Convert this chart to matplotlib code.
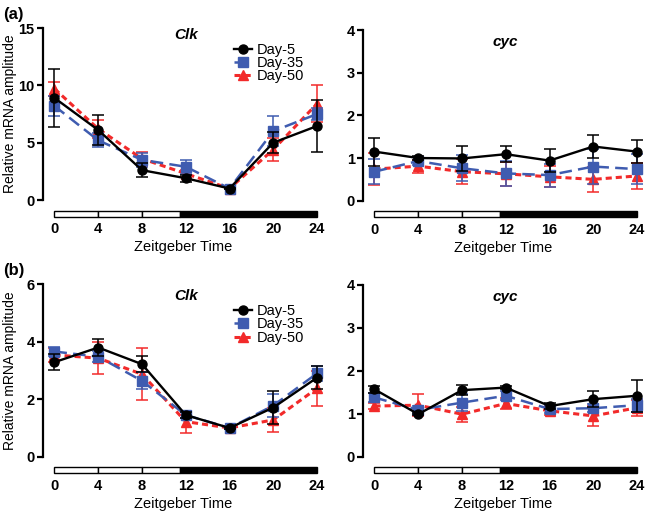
import numpy as np
import matplotlib
matplotlib.use('Agg')
import matplotlib.pyplot as plt
from matplotlib.patches import Rectangle

plt.rcParams['font.family'] = ['Liberation Sans', 'DejaVu Sans']

zt = [0, 4, 8, 12, 16, 20, 24]
grupos = ['Day-5', 'Day-35', 'Day-50']

# (a) Clk
a_clk = {
    'Day-5': [8.9, 6.1, 2.6, 1.9, 1.0, 5.0, 6.45],
    'Day-35': [8.2, 5.2, 3.5, 2.9, 1.0, 6.0, 7.5],
    'Day-50': [9.7, 6.2, 3.6, 2.3, 1.0, 4.4, 8.4],
}
a_clk_err = {
    'Day-5': [2.5, 1.3, 0.6, 0.3, 0.05, 0.9, 2.3],
    'Day-35': [0.9, 0.6, 0.6, 0.6, 0.05, 1.3, 0.5],
    'Day-50': [0.6, 0.8, 0.6, 0.3, 0.05, 1.0, 1.6],
}
# (a) cyc
a_cyc = {
    'Day-5': [1.15, 1.0, 0.99, 1.09, 0.94, 1.27, 1.15],
    'Day-35': [0.68, 0.93, 0.76, 0.64, 0.60, 0.80, 0.74],
    'Day-50': [0.74, 0.81, 0.68, 0.63, 0.56, 0.50, 0.58],
}
a_cyc_err = {
    'Day-5': [0.33, 0.05, 0.30, 0.19, 0.27, 0.27, 0.27],
    'Day-35': [0.30, 0.10, 0.30, 0.30, 0.27, 0.40, 0.35],
    'Day-50': [0.38, 0.15, 0.30, 0.28, 0.25, 0.30, 0.30],
}
# (b) Clk
b_clk = {
    'Day-5': [3.29, 3.8, 3.22, 1.45, 1.0, 1.71, 2.75],
    'Day-35': [3.66, 3.48, 2.64, 1.45, 1.0, 1.78, 2.9],
    'Day-50': [3.54, 3.43, 2.87, 1.22, 1.0, 1.28, 2.38],
}
b_clk_err = {
    'Day-5': [0.27, 0.30, 0.27, 0.10, 0.03, 0.58, 0.40],
    'Day-35': [0.15, 0.20, 0.30, 0.10, 0.03, 0.40, 0.25],
    'Day-50': [0.25, 0.55, 0.90, 0.38, 0.03, 0.42, 0.60],
}
# (b) cyc
b_cyc = {
    'Day-5': [1.57, 0.99, 1.55, 1.61, 1.18, 1.34, 1.42],
    'Day-35': [1.38, 1.09, 1.26, 1.42, 1.11, 1.13, 1.20],
    'Day-50': [1.18, 1.20, 0.99, 1.24, 1.07, 0.95, 1.14],
}
b_cyc_err = {
    'Day-5': [0.08, 0.03, 0.12, 0.04, 0.08, 0.18, 0.37],
    'Day-35': [0.10, 0.10, 0.20, 0.10, 0.10, 0.10, 0.15],
    'Day-50': [0.08, 0.25, 0.17, 0.12, 0.10, 0.23, 0.19],
}

estilo = {
    'Day-5': dict(color='black', marker='o', ls='-', lw=1.7, ms=6.5, z=5),
    'Day-35': dict(color='#3f5cb0', marker='s', ls=(0, (5, 2.5)), lw=1.8, ms=6.5, z=4),
    'Day-50': dict(color='#f22a2a', marker='^', ls=(0, (2.0, 1.3)), lw=2.2, ms=7, z=3),
}

fig = plt.figure(figsize=(6.49, 5.15), dpi=100)
W, H = 649, 515


def eixo(x0, ytop, ybot):
    return fig.add_axes([x0 / W, 1 - ybot / H, 279.5 / W, (ybot - ytop) / H])


def painel(ax, dados, erros, ymax, yticks, titulo, ty, legenda=False, ylabel=False, leg_y=0.92):
    linhas = []
    for g in grupos:
        s = estilo[g]
        c = ax.errorbar(zt, dados[g], yerr=erros[g], color=s['color'], marker=s['marker'],
                        ls=s['ls'], lw=s['lw'], ms=s['ms'], capsize=4, elinewidth=1.1,
                        capthick=1.1, zorder=s['z'], label=g, clip_on=False)
        linhas.append(c[0])
    ax.set_xlim(-1.05, 24.5)
    ax.set_ylim(0, ymax)
    ax.set_yticks(yticks)
    ax.set_xticks(zt)
    for sp in ['top', 'right', 'bottom']:
        ax.spines[sp].set_visible(False)
    ax.spines['left'].set_linewidth(1.6)
    ax.tick_params(axis='y', width=1.6, length=4, labelsize=10.5, pad=2)
    ax.tick_params(axis='x', length=0, labelsize=10.5, pad=16)
    for t in ax.get_xticklabels() + ax.get_yticklabels():
        t.set_fontweight('bold')
    ax.set_xlabel('Zeitgeber Time', fontsize=10.5, labelpad=3)
    if ylabel:
        ax.set_ylabel('Relative mRNA amplitude', fontsize=10)
        ax.yaxis.set_label_coords(-0.092, 0.5)
    ax.text(12, ty, titulo, transform=ax.get_xaxis_transform(), ha='center', va='center',
            fontsize=11, fontweight='bold', fontstyle='italic')
    # barra claro/escuro
    tr = ax.get_xaxis_transform()
    for a, b in [(0, 4), (4, 8), (8, 11.5)]:
        ax.add_patch(Rectangle((a, -0.097), b - a, 0.035, transform=tr, facecolor='white',
                               edgecolor='black', lw=1.0, clip_on=False))
    ax.add_patch(Rectangle((11.5, -0.097), 12.5, 0.035, transform=tr, facecolor='black',
                           edgecolor='black', lw=1.0, clip_on=False))
    if legenda:
        ax.legend(handles=linhas, labels=grupos, loc='upper left', bbox_to_anchor=(0.685, leg_y),
                  frameon=False, fontsize=10.5, handlelength=1.2, handletextpad=0.35,
                  labelspacing=-0.05, borderpad=0, borderaxespad=0)


ax1 = eixo(43, 28, 200)
painel(ax1, a_clk, a_clk_err, 15, [0, 5, 10, 15], 'Clk', 0.96, legenda=True, ylabel=True, leg_y=0.915)
ax2 = eixo(363, 30, 200.7)
painel(ax2, a_cyc, a_cyc_err, 4, [0, 1, 2, 3, 4], 'cyc', 0.93)
ax3 = eixo(43, 284.3, 456.7)
painel(ax3, b_clk, b_clk_err, 6, [0, 2, 4, 6], 'Clk', 0.93, legenda=True, ylabel=True, leg_y=0.885)
ax4 = eixo(363, 285, 456.7)
painel(ax4, b_cyc, b_cyc_err, 4, [0, 1, 2, 3, 4], 'cyc', 0.93)

fig.text(3 / W, 1 - 14 / H, '(a)', fontsize=12, fontweight='bold', va='center')
fig.text(3 / W, 1 - 270 / H, '(b)', fontsize=12, fontweight='bold', va='center')

fig.savefig('out.png', dpi=100)
